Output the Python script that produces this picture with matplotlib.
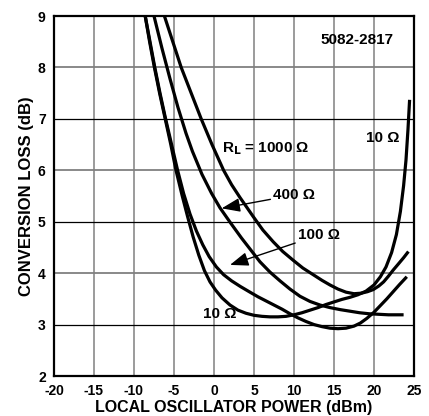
import numpy as np
import matplotlib
matplotlib.use("Agg")
import matplotlib.pyplot as plt

plt.rcParams['font.family'] = ['Liberation Sans', 'DejaVu Sans']
plt.rcParams['font.weight'] = 'bold'
plt.rcParams['axes.unicode_minus'] = False

# curves (LO power dBm, conversion loss dB)
lo_10 = [-8.6, -8.05, -7.45, -6.8, -6.1, -5.4, -4.75, -4.0, -3.3, -2.6, -1.9, -1.2, -0.5, 0.2,
         1.0, 2.0, 3.0, 4.0, 5.0, 6.0, 7.0, 8.0, 9.0, 10.0, 11.0, 12.0, 13.0, 14.0, 15.0,
         16.0, 17.0, 18.0, 19.0, 20.0, 20.8, 21.5, 22.2, 22.8, 23.3, 23.7, 24.0, 24.25, 24.45]
loss_10 = [9.0, 8.5, 8.0, 7.5, 7.0, 6.5, 6.0, 5.52, 5.1, 4.7, 4.35, 4.05, 3.83, 3.67,
           3.52, 3.38, 3.28, 3.22, 3.18, 3.16, 3.15, 3.15, 3.16, 3.19, 3.23, 3.28, 3.33, 3.39, 3.44,
           3.49, 3.53, 3.58, 3.65, 3.77, 3.93, 4.12, 4.4, 4.75, 5.2, 5.7, 6.2, 6.8, 7.37]

lo_100 = [-8.6, -8.0, -7.4, -6.75, -6.05, -5.3, -4.55, -3.8, -3.0, -2.2, -1.4, -0.6, 0.3, 1.2,
          2.2, 3.3, 4.5, 5.5, 6.5, 7.5, 8.5, 9.5, 10.5, 11.5, 12.5, 13.5, 14.5, 15.5, 16.5,
          17.5, 18.3, 19.1, 20.0, 20.8, 21.6, 22.4, 23.2, 24.1]
loss_100 = [9.0, 8.5, 8.0, 7.5, 7.0, 6.5, 6.0, 5.55, 5.15, 4.82, 4.55, 4.32, 4.12, 3.97,
            3.85, 3.74, 3.63, 3.54, 3.46, 3.38, 3.3, 3.21, 3.13, 3.06, 3.0, 2.96, 2.93, 2.92, 2.93,
            2.97, 3.03, 3.12, 3.24, 3.37, 3.5, 3.64, 3.78, 3.93]

lo_400 = [-7.5, -6.5, -5.5, -4.5, -3.5, -2.7, -1.5, -0.3, 0.75, 2.1, 3.45, 4.6, 5.75, 7.0,
          8.25, 9.5, 10.75, 12.0, 13.25, 14.5, 15.8, 17.0, 18.2, 19.4, 20.6, 21.8, 23.7]
loss_400 = [9.0, 8.37, 7.78, 7.22, 6.72, 6.37, 5.92, 5.55, 5.27, 4.97, 4.68, 4.45, 4.22, 4.02,
            3.85, 3.69, 3.55, 3.45, 3.38, 3.33, 3.29, 3.26, 3.23, 3.21, 3.2, 3.19, 3.19]

lo_1000 = [-6.2, -5.15, -4.1, -2.85, -1.6, -0.25, 1.2, 2.2, 3.25, 4.1, 4.9, 6.1, 7.4, 8.6,
           9.9, 11.1, 12.4, 13.5, 14.5, 15.5, 16.5, 17.5, 18.4, 19.2, 19.9, 20.6, 21.2, 21.8,
           22.4, 23.0, 23.7, 24.3]
loss_1000 = [9.0, 8.5, 8.0, 7.5, 7.0, 6.5, 6.0, 5.72, 5.47, 5.28, 5.1, 4.84, 4.61, 4.42,
             4.25, 4.1, 3.97, 3.86, 3.77, 3.69, 3.63, 3.6, 3.61, 3.64, 3.68, 3.75, 3.83, 3.94,
             4.06, 4.17, 4.3, 4.42]

fig = plt.figure(figsize=(4.29, 4.16), dpi=100)
ax = fig.add_axes([54 / 429, 40 / 416, 360 / 429, 360 / 416])

ax.set_xlim(-20, 25)
ax.set_ylim(2, 9)
ax.set_xticks(np.arange(-20, 26, 5))
ax.set_yticks(np.arange(2, 10, 1))

# grid: dark at odd dB, gray elsewhere
for x in range(-15, 25, 5):
    ax.axvline(x, color='#808080', lw=1.1, zorder=1)
for y in [4, 6, 8]:
    ax.axhline(y, color='#808080', lw=1.3, zorder=1)
for y in [3, 5, 7]:
    ax.axhline(y, color='black', lw=0.9, zorder=1)

for xs, ys in [(lo_10, loss_10), (lo_100, loss_100), (lo_400, loss_400), (lo_1000, loss_1000)]:
    ax.plot(xs, ys, color='black', lw=2.3, solid_capstyle='butt', solid_joinstyle='round',
            zorder=3)

for s in ax.spines.values():
    s.set_linewidth(1.6)
ax.tick_params(length=0, labelsize=10, pad=6)

ax.set_xlabel('LOCAL OSCILLATOR POWER (dBm)', fontsize=11.5, fontweight='bold', labelpad=1)
ax.set_ylabel('CONVERSION LOSS (dB)', fontsize=12, fontweight='bold', labelpad=3)

fs = 11
ax.text(22.4, 8.53, '5082-2817', fontsize=fs, ha='right', va='center')
ax.text(1.0, 6.43, r'R$_\mathbf{L}$ = 1000 Ω', fontsize=fs, ha='left', va='center')
ax.text(19.0, 6.63, '10 Ω', fontsize=fs, ha='left', va='center')
ax.text(-1.4, 3.2, '10 Ω', fontsize=fs, ha='left', va='center')

arrow = dict(arrowstyle='-|>,head_length=0.8,head_width=0.3', color='black', lw=1.0,
             mutation_scale=14, shrinkA=0, shrinkB=0)
ax.annotate('400 Ω', xy=(0.96, 5.26), xytext=(7.4, 5.52), fontsize=fs, ha='left', va='center',
            arrowprops=arrow)
ax.annotate('100 Ω', xy=(2.0, 4.16), xytext=(10.5, 4.74), fontsize=fs, ha='left', va='center',
            arrowprops=arrow)

fig.savefig('out.png', dpi=100)
